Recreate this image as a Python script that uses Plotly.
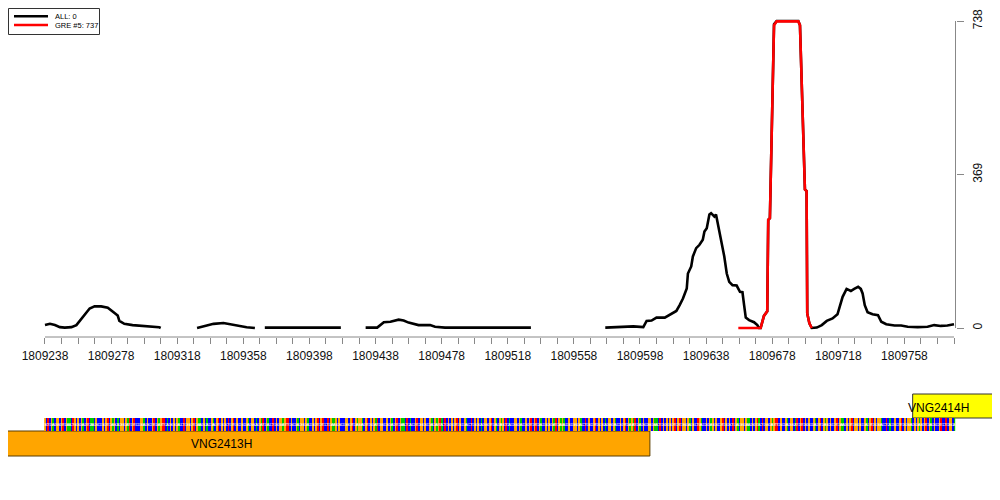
import plotly.graph_objects as go

# ---------------- data ----------------
# ALL coverage (black), None = gap in coverage
all_pos = [1809238, 1809241, 1809244, 1809247, 1809250, 1809254, 1809257, 1809260, 1809265, 1809268,
           1809272, 1809276, 1809280, 1809282, 1809283, 1809286, 1809291, 1809298, 1809304, 1809307, 1809308, None,
           1809330, 1809334, 1809340, 1809346, 1809350, 1809356, 1809360, 1809365, None,
           1809371, 1809384, 1809400, 1809404, 1809417, None,
           1809432, 1809439, 1809443, 1809447, 1809452, 1809455, 1809458, 1809464, 1809471, 1809474,
           1809480, 1809493, 1809509, 1809532, None,
           1809577, 1809581, 1809588, 1809594, 1809600, 1809601, 1809602, 1809605, 1809608, 1809613,
           1809617, 1809620, 1809622, 1809624, 1809626.3, 1809627, 1809629, 1809630, 1809632, 1809634,
           1809636, 1809637, 1809638.4, 1809640, 1809641, 1809643, 1809644, 1809645, 1809647, 1809649,
           1809650.5, 1809652, 1809654, 1809656.5, 1809658.5, 1809660, 1809661, 1809662, 1809664, 1809667,
           1809669, 1809670, 1809671, 1809673, 1809675, 1809675.6, 1809676.6, 1809679.1, 1809680.7, 1809693.8,
           1809694.8, 1809697.8, 1809698.8, 1809699.2, 1809700.5, 1809701.9, 1809705, 1809708, 1809711, 1809714.5,
           1809717.5, 1809719, 1809720.6, 1809723, 1809725.6, 1809727.6, 1809730, 1809731.6, 1809732.7, 1809734,
           1809735.7, 1809738.7, 1809742, 1809744, 1809747, 1809752, 1809756, 1809760, 1809766, 1809772,
           1809776, 1809780, 1809784, 1809788]
all_val = [7, 10, 7, 2, 1, 2, 7, 23, 47, 52,
           52, 49, 35, 30, 17, 10, 7, 5, 3, 2, 0, None,
           0, 4, 10, 12, 9, 5, 2, 0, None,
           1, 1, 0.5, 1, 1, None,
           1, 1, 14, 15, 20, 18, 13, 7, 7, 3,
           1, 1, 1, 1, None,
           1, 2, 2, 4, 2, 9, 17, 18, 25, 25,
           34, 41, 55, 71, 95, 131, 148, 172, 192, 200,
           212, 232, 240, 273, 276, 268, 273, 252, 216, 172,
           131, 111, 103, 102, 87, 86, 55, 25, 19, 14,
           7, 0, 0, 29, 40, 260, 264, 730, 738, 738,
           728, 333, 329, 35, 11, 0, 1, 7, 17, 23,
           33, 51, 75, 94, 89, 94, 99, 94, 83, 55,
           38, 33, 31, 15, 9, 6, 6, 3, 2, 3,
           7, 5, 6, 9]

# GRE #5 coverage (red)
gre_pos = [1809657.5, 1809671, 1809673, 1809675, 1809675.6, 1809676.6, 1809679.1, 1809680.7, 1809693.8,
           1809694.8, 1809697.8, 1809698.8, 1809699.2, 1809700.5, 1809701.9]
gre_val = [0, 0, 29, 40, 260, 264, 728, 737, 737,
           728, 333, 329, 35, 11, 0]

series_names = ["ALL: 0", "GRE #5: 737"]
series_colors = ["#000000", "#FF0000"]

# axis ticks
x_tick_vals = list(range(1809238, 1809789, 10))
x_label_vals = list(range(1809238, 1809759, 40))
y_tick_vals = [0, 369, 738]

# genomic sequence shown in the strip (estimated)
seq_start = 1809238
sequence = ("GCTCGACGGCGTCGAACTGCGCGACGTCAACGCCCGCGTCGAGCACGGCG"
            "ATCGTCCCGGACGCCGTCGAGTTCACGCGCGACCTCGGCGTCGAACGCAC"
            "CGACGTCGCGCTCGTCGCCGCCGACGGCACGATCGACCTCGCGGAGTTCG"
            "CCGACGGCGACCGCGTCGTCCTCGAAGCGCCCGGCGTCGAGGACGTCGCG"
            "ATCGGCCGCGACGTCGAACTCACCGTCGGCGCCGACGAGTACTCGCGCGT"
            "CGCCGACCTCGCGCACGGCGTCGACGAGCTCACCGGCGACCGCGTCGTCG"
            "ACCGCGCGATCGAGACCGCCGGCGACCTCGCCGTCGCGCACGGCGACCGC"
            "GTCGAGATCGACGCCGGCGAACTCGCGCGCGTCGTCGGCGACGCCTGACC"
            "GCGAGCGCCGTCGCGCTCGACGGCGAACGCGTACTCGGCGAGTTCGCCGA"
            "CGGCATCGTCGCGCCGACGTCGAGCGCCGTCGAACGCGTCGGCGCCGACG"
            "TCGCGGACCTCACCGCCGTCGCGGACGCGAGCGTCGACGCCGTCCTCGGC"
            "A")

# genes
gene_names = ["VNG2413H", "VNG2414H"]
gene_starts = [1809086, 1809763]
gene_ends = [1809604, 1809840]
gene_label_x = [1809345, 1809778.6]
gene_colors = ["#FFA500", "#FFFF00"]
gene_borders = ["#5a3d00", "#333333"]

# ---------------- geometry helpers (figure sits at an 8px page offset) ----------------
W, H = 984, 484
OFF = 8


def px(x):
    return (x - OFF) / W


def py(y):
    return 1 - (y - OFF) / H


# ---------------- figure ----------------
fig = go.Figure()

fig.add_trace(go.Scatter(x=all_pos, y=all_val, mode="lines", connectgaps=False,
                         line=dict(color=series_colors[0], width=2.6), name=series_names[0],
                         showlegend=False, xaxis="x", yaxis="y"))
fig.add_trace(go.Scatter(x=gre_pos, y=gre_val, mode="lines",
                         line=dict(color=series_colors[1], width=2.6), name=series_names[1],
                         showlegend=False, xaxis="x", yaxis="y"))

# sequence strip as a one-row heatmap
code = {"A": 0, "C": 1, "G": 2, "T": 3}
n = len(sequence)
seq_pos = [seq_start + i for i in range(n)]
x_edges = [p - 0.5 for p in seq_pos] + [seq_pos[-1] + 0.5]
strip_y = [39, 52]
z = [[code[b] for b in sequence]]
fig.add_trace(go.Heatmap(x=x_edges, y=strip_y, z=z, zmin=0, zmax=3, showscale=False,
                         colorscale=[[0, "#00C800"], [0.25, "#00C800"], [0.25, "#0000FF"], [0.5, "#0000FF"],
                                     [0.5, "#FFA500"], [0.75, "#FFA500"], [0.75, "#FF0000"], [1, "#FF0000"]],
                         xaxis="x2", yaxis="y2", hoverinfo="skip"))
fig.add_trace(go.Scatter(x=seq_pos, y=[(strip_y[0] + strip_y[1]) / 2] * n, mode="text",
                         text=list(sequence), textfont=dict(color="white", size=4, family="Liberation Sans"),
                         showlegend=False, xaxis="x2", yaxis="y2", hoverinfo="skip"))

shapes = []
# gene boxes
gene_y = [(14, 39), (52, 76)]
for i in range(len(gene_names)):
    shapes.append(dict(type="rect", xref="x2", yref="y2", x0=gene_starts[i], x1=gene_ends[i],
                       y0=gene_y[i][0], y1=gene_y[i][1], fillcolor=gene_colors[i],
                       line=dict(color=gene_borders[i], width=1), layer="below"))
# axis lines (R style: first to last tick)
x_axis_pos = py(337)
shapes.append(dict(type="line", xref="x", yref="paper", x0=x_tick_vals[0], x1=x_tick_vals[-1],
                   y0=x_axis_pos, y1=x_axis_pos, line=dict(color="#888888", width=1)))
shapes.append(dict(type="line", xref="x domain", yref="y", x0=1, x1=1,
                   y0=y_tick_vals[0], y1=y_tick_vals[-1], line=dict(color="#888888", width=1)))
# legend box
shapes.append(dict(type="rect", xref="paper", yref="paper", x0=px(8.5), x1=px(99.5), y0=py(34.5),
                   y1=py(8.5), line=dict(color="#333333", width=1), fillcolor="white"))
legend_rows = [16.3, 25.0]
for i, yy in enumerate(legend_rows):
    shapes.append(dict(type="line", xref="paper", yref="paper", x0=px(14), x1=px(48),
                       y0=py(yy), y1=py(yy), line=dict(color=series_colors[i], width=2.6)))

annotations = []
for i, yy in enumerate(legend_rows):
    annotations.append(dict(xref="paper", yref="paper", x=px(53), y=py(yy), text=series_names[i],
                            showarrow=False, xanchor="left", yanchor="middle",
                            font=dict(size=7.5, color="black", family="Liberation Sans")))
label_y = [26.5, 62.5]
for i in range(len(gene_names)):
    annotations.append(dict(xref="x2", yref="y2", x=gene_label_x[i], y=label_y[i], text=gene_names[i],
                            showarrow=False, xanchor="center", yanchor="middle",
                            font=dict(size=12, color="black", family="Liberation Sans")))

x_text = [str(v) if v in x_label_vals else "" for v in x_tick_vals]

fig.update_layout(
    template="none",
    width=W, height=H,
    margin=dict(l=0, r=0, t=0, b=0, pad=0, autoexpand=False),
    paper_bgcolor="white", plot_bgcolor="white",
    showlegend=False,
    shapes=shapes, annotations=annotations,
    xaxis=dict(domain=[px(44), px(955.5)], range=[1809237.4, 1809788.9], anchor="free", position=x_axis_pos,
               automargin=False, ticklabelstandoff=2,
               showline=False, showgrid=False, zeroline=False, ticks="outside", ticklen=6,
               tickcolor="#888888", tickwidth=1, tickvals=x_tick_vals, ticktext=x_text,
               tickfont=dict(size=12, color="#111111", family="Liberation Sans")),
    yaxis=dict(domain=[py(334.24), py(11.85)], range=[-15, 760], side="right", anchor="x",
               automargin=False, ticklabelstandoff=4,
               showline=False, showgrid=False, zeroline=False, ticks="outside", ticklen=7,
               tickcolor="#888888", tickwidth=1, tickvals=y_tick_vals, tickangle=-90,
               tickfont=dict(size=12, color="#111111", family="Liberation Sans")),
    xaxis2=dict(domain=[px(8), px(992)], range=[1809215.6, 1809811.0], anchor="y2", visible=False,
                automargin=False),
    yaxis2=dict(domain=[py(470), py(380)], range=[0, 90], anchor="x2", visible=False, automargin=False),
)

fig.write_html("out.html")
